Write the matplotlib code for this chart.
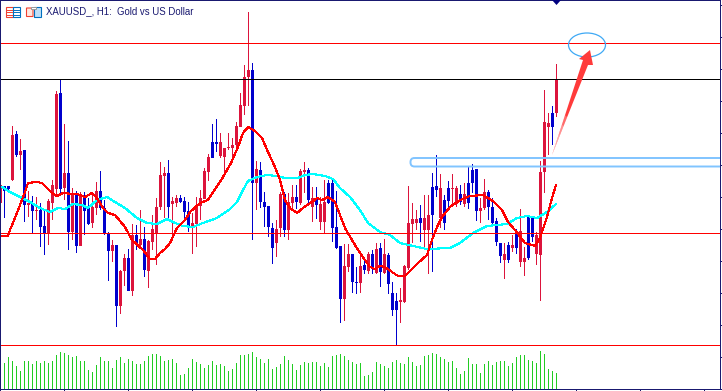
import matplotlib
matplotlib.use('Agg')
import matplotlib.pyplot as plt
from matplotlib.patches import Ellipse, FancyBboxPatch, Polygon, Rectangle

# candle data, k-th candle sits 4 px right of the previous one
# chart y axis runs downward, so a "high" is the smaller number
colors = list(
    'rbbrbrbrbr' 'bbrrrbrbrb'
    'rbbrrbbbrb' 'rrbrbrbrrr'
    'rrbrrbbbrr' 'rrrbbrrrrr'
    'rrrbrbbbbr' 'rbrrbrrbrb'
    'rrbbbbrrbb' 'rbrbrbrbbb'
    'rrrrrbrrbb' 'rbbrrbrbbb'
    'rrbbbbrbrb' 'rrbbrrrrbr'
)
body_top = [
    185, 186, 186, 135, 134, 151, 150, 203, 203, 210,
    210, 226, 201, 185, 94, 93, 173, 173, 193, 193,
    195, 195, 207, 207, 191, 191, 208, 233, 245, 245,
    271, 258, 258, 235, 235, 239, 239, 241, 229, 207,
    175, 173, 173, 201, 198, 198, 201, 211, 223, 207,
    198, 171, 157, 142, 142, 142, 148, 147, 145, 126,
    105, 77, 70, 70, 169, 170, 202, 206, 228, 229,
    194, 194, 202, 197, 197, 171, 170, 170, 198, 198,
    204, 202, 183, 183, 227, 246, 266, 254, 254, 282,
    266, 265, 254, 254, 249, 248, 254, 255, 293, 301,
    300, 266, 223, 219, 219, 218, 218, 215, 187, 186,
    188, 200, 188, 188, 188, 194, 194, 183, 170, 169,
    208, 192, 192, 207, 221, 243, 254, 245, 245, 231,
    231, 258, 217, 217, 235, 172, 122, 123, 113, 79,
]
body_bot = [
    203, 191, 189, 180, 155, 155, 205, 205, 211, 211,
    227, 233, 233, 203, 189, 189, 188, 232, 232, 246,
    246, 211, 224, 223, 208, 208, 233, 251, 251, 306,
    306, 271, 291, 291, 244, 245, 270, 271, 242, 233,
    207, 176, 207, 204, 203, 202, 212, 227, 228, 224,
    206, 199, 172, 158, 144, 156, 157, 148, 148, 145,
    127, 106, 77, 183, 183, 202, 207, 227, 248, 243,
    228, 230, 230, 203, 202, 203, 172, 200, 207, 205,
    222, 222, 203, 228, 248, 299, 299, 267, 282, 283,
    283, 270, 271, 267, 273, 272, 273, 284, 310, 310,
    302, 302, 268, 224, 223, 223, 230, 230, 215, 190,
    218, 223, 201, 189, 204, 202, 204, 203, 183, 211,
    211, 208, 207, 223, 242, 256, 260, 260, 248, 248,
    262, 262, 258, 237, 254, 255, 172, 127, 127, 113,
]
wick_high = [
    178, 186, 186, 126, 131, 139, 150, 191, 196, 197,
    203, 210, 199, 180, 91, 79, 124, 141, 188, 191,
    192, 192, 198, 193, 182, 171, 200, 232, 240, 245,
    270, 254, 249, 224, 225, 210, 227, 240, 215, 198,
    162, 167, 160, 197, 195, 195, 197, 202, 213, 197,
    190, 168, 154, 124, 119, 133, 148, 133, 138, 122,
    93, 65, 12, 63, 161, 162, 192, 206, 223, 220,
    192, 192, 193, 185, 185, 169, 162, 168, 187, 187,
    197, 180, 180, 180, 191, 246, 244, 244, 254, 267,
    253, 258, 252, 250, 243, 243, 239, 253, 282, 293,
    288, 265, 186, 203, 210, 205, 195, 195, 173, 155,
    174, 195, 181, 174, 186, 185, 183, 166, 164, 169,
    198, 179, 190, 198, 218, 243, 243, 242, 235, 229,
    209, 247, 216, 217, 232, 161, 90, 113, 106, 64,
]
wick_low = [
    205, 218, 190, 181, 157, 170, 222, 217, 233, 220,
    247, 255, 245, 220, 195, 195, 200, 250, 240, 253,
    246, 235, 225, 228, 215, 210, 235, 281, 262, 327,
    314, 286, 291, 296, 250, 248, 277, 288, 250, 265,
    210, 218, 220, 235, 207, 203, 220, 232, 254, 247,
    220, 199, 181, 158, 152, 158, 175, 150, 162, 153,
    127, 115, 106, 240, 210, 208, 227, 237, 264, 257,
    237, 237, 240, 210, 209, 205, 193, 205, 222, 219,
    230, 234, 204, 242, 249, 323, 321, 272, 293, 294,
    293, 274, 274, 274, 274, 287, 274, 294, 316, 345,
    323, 303, 270, 243, 230, 242, 248, 274, 272, 197,
    228, 230, 207, 205, 207, 205, 207, 209, 193, 221,
    223, 210, 220, 224, 246, 263, 279, 263, 252, 254,
    267, 276, 260, 242, 265, 301, 193, 155, 145, 117,
]
volumes = [
    0, 26, 32, 28, 23, 18, 28, 28, 25, 28, 26, 28, 26, 28, 34, 37, 36, 34, 32, 33,
    28, 28, 19, 17, 24, 32, 28, 28, 21, 29, 32, 26, 30, 28, 25, 25, 28, 33, 35, 35,
    33, 28, 29, 30, 26, 14, 15, 21, 30, 27, 25, 21, 24, 28, 24, 25, 23, 18, 20, 26,
    34, 34, 35, 37, 32, 30, 26, 30, 20, 22, 25, 33, 29, 25, 19, 24, 27, 26, 27, 27,
    23, 26, 22, 33, 34, 35, 33, 29, 27, 25, 26, 13, 14, 17, 27, 25, 23, 21, 27, 29,
    26, 25, 32, 27, 23, 24, 33, 34, 36, 35, 32, 30, 27, 28, 21, 15, 18, 31, 25, 25,
    16, 25, 28, 24, 27, 28, 28, 23, 26, 32, 34, 34, 29, 28, 26, 38, 35, 20, 18, 16,
]

fast_ma_x = [0, 8, 10, 12, 15, 20, 25, 28, 37, 42, 47, 52, 57, 63, 72, 77, 85, 92, 97, 103,
             108, 115, 125, 132, 143, 150, 155, 160, 165, 170, 177, 185, 190, 200, 208, 223,
             231, 238, 243, 248, 255, 262, 268, 275, 280, 285, 290, 297, 303, 312, 317, 322,
             328, 335, 340, 345, 352, 358, 365, 370, 375, 380, 385, 392, 398, 405, 412, 418,
             427, 432, 437, 442, 450, 460, 470, 483, 493, 502, 508, 515, 525, 535, 540, 547,
             552, 556]
fast_ma_y = [236, 236, 230, 225, 218, 205, 192, 183, 182, 183, 188, 193, 196, 193, 194, 194,
             197, 193, 198, 208, 213, 215, 227, 240, 250, 259, 259, 253, 249, 243, 228, 220,
             212, 203, 200, 177, 163, 147, 133, 127, 131, 138, 152, 167, 180, 200, 208, 213,
             208, 202, 198, 200, 197, 202, 215, 228, 240, 250, 260, 267, 269, 266, 267, 272,
             276, 276, 269, 263, 255, 240, 227, 217, 207, 200, 196, 195, 201, 210, 222, 230,
             243, 246, 238, 217, 198, 185]
slow_ma_x = [2, 10, 20, 30, 40, 50, 58, 65, 73, 82, 88, 97, 107, 115, 125, 137, 147, 157, 167,
             175, 183, 193, 203, 217, 230, 237, 243, 248, 257, 267, 277, 285, 298, 305, 313,
             325, 333, 340, 350, 360, 368, 380, 390, 400, 413, 427, 450, 460, 473, 487, 507,
             517, 527, 537, 547, 556]
slow_ma_y = [187, 192, 197, 202, 208, 212, 208, 209, 204, 205, 208, 200, 197, 202, 208, 218,
             223, 224, 219, 223, 226, 227, 223, 218, 209, 202, 190, 181, 177, 175, 176, 178,
             178, 175, 174, 176, 179, 188, 197, 210, 223, 232, 235, 243, 246, 249, 248, 243,
             233, 226, 224, 218, 216, 218, 212, 204]

level_ys = [43.5, 79.5, 233.5, 345.5]
level_colors = ['#ff0000', '#000000', '#ff0000', '#ff0000']

title = 'XAUUSD_, H1:  Gold vs US Dollar'
frame_color = '#191970'
up_color = '#dc143c'
down_color = '#0000cd'

fig = plt.figure(figsize=(7.22, 3.91), dpi=100)
ax = fig.add_axes([0, 0, 1, 1])
ax.set_xlim(0, 722)
ax.set_ylim(391, 0)
ax.axis('off')

xs = [4 * k + 0.5 for k in range(len(colors))]
cols = [up_color if c == 'r' else down_color for c in colors]

# volumes along the bottom of the window, 1 px bars stay crisp
ax.bar(xs, volumes, bottom=[389 - v for v in volumes], width=1, color='#22cc22',
       linewidth=0, antialiased=False)

# candles
ax.bar(xs, [l - h for h, l in zip(wick_high, wick_low)], bottom=wick_high, width=1,
       color=cols, linewidth=0, antialiased=False, zorder=2)
ax.bar(xs, [b - t for t, b in zip(body_top, body_bot)], bottom=body_top, width=3,
       color=cols, linewidth=0, antialiased=False, zorder=2)

# moving averages
ax.plot(slow_ma_x, slow_ma_y, color='#00ffff', linewidth=0.8, antialiased=False, zorder=3)
ax.plot(fast_ma_x, fast_ma_y, color='#ff0000', linewidth=0.8, antialiased=False, zorder=4)

# horizontal levels
ax.barh(level_ys, 719, left=1, height=1, color=level_colors, linewidth=0, antialiased=False, zorder=5)

# hand drawn annotations
ax.add_patch(FancyBboxPatch((410.5, 158), 340, 8.5, boxstyle='round,pad=0,rounding_size=4',
                            facecolor='none', edgecolor='#80c4ff', linewidth=1.4, zorder=6))
ax.add_patch(Rectangle((720, 150), 2, 25, facecolor='white', edgecolor='none', zorder=7))
ax.add_patch(Ellipse((587, 45), 37, 24, facecolor='none', edgecolor='#3fa9f5', linewidth=0.9, zorder=8))
ax.add_patch(Polygon([(552, 155), (583, 60), (579, 59), (590, 50), (593, 65), (588, 65)],
                     closed=True, facecolor='#ff3b3b', edgecolor='none', zorder=8))
# the arrow's tail fades out towards the bottom
for frac in (0.12, 0.22, 0.32, 0.42):
    ax.add_patch(Polygon([(552, 155), (552 + 31 * frac, 155 - 95 * frac), (552 + 36 * frac, 155 - 90 * frac)],
                         closed=True, facecolor='white', edgecolor='none', alpha=0.25, zorder=8))

# window frame and ticks
ax.bar(0.5, 390, bottom=0, width=1, color=frame_color, linewidth=0, antialiased=False, zorder=9)
ax.bar(720.5, 390, bottom=0, width=1, color=frame_color, linewidth=0, antialiased=False, zorder=9)
ax.barh(0.5, 721, height=1, color=frame_color, linewidth=0, antialiased=False, zorder=9)
ax.barh(389.5, 721, height=1, color=frame_color, linewidth=0, antialiased=False, zorder=9)
ax.barh(list(range(5, 390, 32)), 1, left=721, height=1, color=frame_color, linewidth=0, antialiased=False, zorder=9)
ax.bar([x + 0.5 for x in range(0, 720, 64)], 1, bottom=390, width=1, color=frame_color,
       linewidth=0, antialiased=False, zorder=9)
ax.add_patch(Polygon([(552, 0), (561, 0), (556.5, 5)], closed=True, facecolor='#000080',
                     edgecolor='none', zorder=9))

# toolbar icons next to the title
ax.add_patch(Rectangle((5.5, 6.5), 7, 10, facecolor='white', edgecolor='#f04030', linewidth=0.8, zorder=9))
ax.add_patch(Rectangle((12.5, 6.5), 7, 10, facecolor='white', edgecolor='#0070c0', linewidth=0.8, zorder=9))
for y in (9.5, 11.5, 14.5):
    ax.plot([6, 12], [y, y], color='#f04030', linewidth=0.7, zorder=9)
    ax.plot([13, 19], [y, y], color='#0070c0', linewidth=0.7, zorder=9)
ax.add_patch(Polygon([(26.5, 8), (31, 8), (33, 10), (33, 16.5), (26.5, 16.5)], closed=True,
                     facecolor='#ffe8e0', edgecolor='#f04030', linewidth=0.8, zorder=9))
ax.add_patch(Polygon([(34, 7), (40.5, 7), (40.5, 16.5), (34, 16.5)], closed=True,
                     facecolor='#bfe0f8', edgecolor='#0070c0', linewidth=0.8, zorder=9))
ax.add_patch(Rectangle((31, 6.5), 4.5, 2.5, facecolor='white', edgecolor='#999999', linewidth=0.7, zorder=10))

ax.text(46.5, 11.5, title, color='#191970', fontsize=6.9, family='Liberation Sans', va='center', ha='left', zorder=9)

fig.savefig('out.png', dpi=100)
